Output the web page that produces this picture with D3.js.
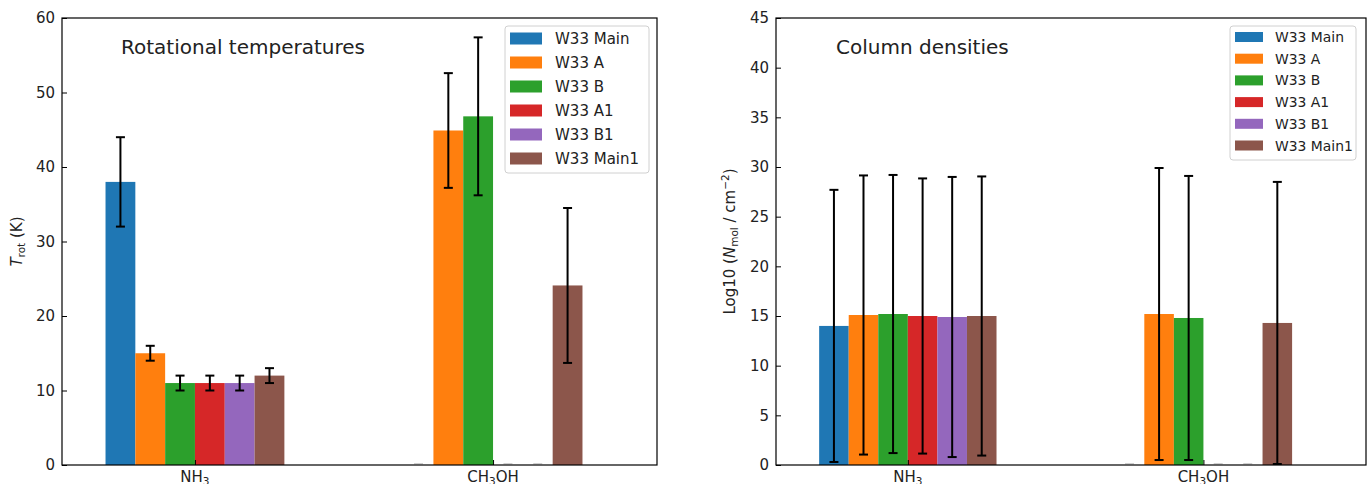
<!DOCTYPE html>
<html>
<head>
<meta charset="utf-8">
<script src="https://cdn.jsdelivr.net/npm/d3@7"></script>
<style>
  html, body { margin: 0; padding: 0; background: #fff; }
  svg text { font-family: "DejaVu Sans", sans-serif; fill: #222; }
</style>
</head>
<body>
<svg id="chart" width="1369" height="484"></svg>
<script>
// Molecules on the x axis
const categories = ["NH3", "CH3OH"];
// Sources, one bar per source in each group
const sources = ["W33 Main", "W33 A", "W33 B", "W33 A1", "W33 B1", "W33 Main1"];
const colors = ["#1f77b4", "#ff7f0e", "#2ca02c", "#d62728", "#9467bd", "#8c564b"];

// Rotational temperatures (K), per source: [NH3, CH3OH]
const trotMain  = [38, 0];
const trotA     = [15, 44.9];
const trotB     = [11, 46.8];
const trotA1    = [11, 0];
const trotB1    = [11, 0];
const trotMain1 = [12, 24.1];
// Uncertainties on the rotational temperatures
const trotErrMain  = [6, 0];
const trotErrA     = [1, 7.7];
const trotErrB     = [1, 10.6];
const trotErrA1    = [1, 0];
const trotErrB1    = [1, 0];
const trotErrMain1 = [1, 10.4];

// Log10 column densities (cm^-2), per source: [NH3, CH3OH]
const colMain  = [14.0, 0];
const colA     = [15.1, 15.2];
const colB     = [15.2, 14.8];
const colA1    = [15.0, 0];
const colB1    = [14.9, 0];
const colMain1 = [15.0, 14.3];
// Uncertainties on the column densities
const colErrMain  = [13.7, 0];
const colErrA     = [14.05, 14.7];
const colErrB     = [14.0, 14.3];
const colErrA1    = [13.85, 0];
const colErrB1    = [14.1, 0];
const colErrMain1 = [14.05, 14.2];

// Tick values for each panel
const trotTicks = [0, 10, 20, 30, 40, 50, 60];
const colTicks = [0, 5, 10, 15, 20, 25, 30, 35, 40, 45];

const svg = d3.select("#chart");

function drawPanel(cfg) {
  const g = svg.append("g");
  const x = d3.scaleLinear().domain([-0.446, 1.55]).range([cfg.left, cfg.right]);
  const y = d3.scaleLinear().domain(cfg.yDomain).range([cfg.bottom, cfg.top]);
  const barW = 0.1;

  // bars
  cfg.values.forEach((vals, si) => {
    vals.forEach((v, ci) => {
      const cx = ci + (si - 2.5) * barW;
      g.append("rect")
        .attr("x", x(cx - barW / 2))
        .attr("width", x(cx + barW / 2) - x(cx - barW / 2))
        .attr("y", y(v))
        .attr("height", y(0) - y(v))
        .attr("fill", colors[si]);
    });
  });

  // error bars
  cfg.values.forEach((vals, si) => {
    vals.forEach((v, ci) => {
      const e = cfg.errors[si][ci];
      const px = x(ci + (si - 2.5) * barW);
      const capHalf = 4.5;
      if (e === 0) {
        g.append("line")
          .attr("x1", px - capHalf).attr("x2", px + capHalf)
          .attr("y1", y(v) - 1.2).attr("y2", y(v) - 1.2)
          .attr("stroke", "#bdbdbd").attr("stroke-width", 1);
        return;
      }
      g.append("line")
        .attr("x1", px).attr("x2", px)
        .attr("y1", y(v - e)).attr("y2", y(v + e))
        .attr("stroke", "#000").attr("stroke-width", 2);
      [v - e, v + e].forEach(t => {
        g.append("line")
          .attr("x1", px - capHalf).attr("x2", px + capHalf)
          .attr("y1", y(t)).attr("y2", y(t))
          .attr("stroke", "#000").attr("stroke-width", 2);
      });
    });
  });

  // y axis, ticks pointing inward
  const yAxis = d3.axisRight(y).tickValues(cfg.ticks).tickSize(5).tickFormat(d3.format("d"));
  const ya = g.append("g").attr("transform", `translate(${cfg.left},0)`).call(yAxis);
  ya.select(".domain").remove();
  ya.selectAll(".tick line").attr("stroke", "#000").attr("stroke-width", 1);
  ya.selectAll(".tick text")
    .attr("x", -7).attr("text-anchor", "end")
    .attr("font-size", 15).attr("font-family", "DejaVu Sans").attr("fill", "#222");

  // x ticks at category centres, pointing inward
  const xAxis = d3.axisTop(x).tickValues([0, 1]).tickSize(5).tickFormat("");
  const xa = g.append("g").attr("transform", `translate(0,${cfg.bottom})`).call(xAxis);
  xa.select(".domain").remove();
  xa.selectAll(".tick line").attr("stroke", "#000").attr("stroke-width", 1);

  // category labels with subscript digits
  const labelParts = [["NH", "3", ""], ["CH", "3", "OH"]];
  labelParts.forEach((p, ci) => {
    const t = g.append("text")
      .attr("x", x(ci)).attr("y", cfg.bottom + 17)
      .attr("text-anchor", "middle").attr("font-size", 15);
    t.append("tspan").text(p[0]);
    t.append("tspan").attr("font-size", 10.5).attr("dy", 3).text(p[1]);
    if (p[2]) t.append("tspan").attr("dy", -3).text(p[2]);
  });

  // frame
  g.append("rect")
    .attr("x", cfg.left).attr("y", cfg.top)
    .attr("width", cfg.right - cfg.left).attr("height", cfg.bottom - cfg.top)
    .attr("fill", "none").attr("stroke", "#000").attr("stroke-width", 1.2);

  // panel title inside the axes
  g.append("text")
    .attr("x", cfg.titleX).attr("y", cfg.top + 36)
    .attr("font-size", 20).text(cfg.title);

  // y axis label
  cfg.yLabel(g.append("text")
    .attr("transform", `translate(${cfg.yLabelX},${(cfg.top + cfg.bottom) / 2}) rotate(-90)`)
    .attr("text-anchor", "middle").attr("font-size", 15));

  // legend
  const L = cfg.legend;
  const lg = g.append("g");
  lg.append("rect")
    .attr("x", L.x).attr("y", L.y).attr("width", L.w).attr("height", L.h)
    .attr("rx", 3).attr("fill", "#fff").attr("fill-opacity", 0.8)
    .attr("stroke", "#d0d0d0").attr("stroke-width", 1);
  sources.forEach((s, i) => {
    const cy = L.firstRow + i * L.rowStep;
    lg.append("rect")
      .attr("x", L.patchX).attr("y", cy - L.patchH / 2)
      .attr("width", L.patchW).attr("height", L.patchH)
      .attr("fill", colors[i]);
    lg.append("text")
      .attr("x", L.textX).attr("y", cy)
      .attr("dy", "0.36em").attr("font-size", L.fontSize).text(s);
  });
}

drawPanel({
  left: 62, right: 657, top: 18, bottom: 465,
  yDomain: [0, 60], ticks: trotTicks,
  values: [trotMain, trotA, trotB, trotA1, trotB1, trotMain1],
  errors: [trotErrMain, trotErrA, trotErrB, trotErrA1, trotErrB1, trotErrMain1],
  title: "Rotational temperatures", titleX: 121,
  yLabelX: 22,
  yLabel: t => {
    t.append("tspan").attr("font-style", "italic").text("T");
    t.append("tspan").attr("font-size", 10.5).attr("dy", 3).text("rot");
    t.append("tspan").attr("dy", -3).text(" (K)");
  },
  legend: { x: 505, y: 26, w: 144, h: 147, patchX: 510, patchW: 32, patchH: 12,
            textX: 555, firstRow: 38.5, rowStep: 24, fontSize: 15 }
});

drawPanel({
  left: 776, right: 1366, top: 18, bottom: 465,
  yDomain: [0, 45], ticks: colTicks,
  values: [colMain, colA, colB, colA1, colB1, colMain1],
  errors: [colErrMain, colErrA, colErrB, colErrA1, colErrB1, colErrMain1],
  title: "Column densities", titleX: 836,
  yLabelX: 735,
  yLabel: t => {
    t.append("tspan").text("Log10 (");
    t.append("tspan").attr("font-style", "italic").text("N");
    t.append("tspan").attr("font-size", 10.5).attr("dy", 3).text("mol");
    t.append("tspan").attr("dy", -3).text(" / cm");
    t.append("tspan").attr("font-size", 10.5).attr("dy", -6).text("\u22122");
    t.append("tspan").attr("dy", 6).text(")");
  },
  legend: { x: 1230, y: 26, w: 126, h: 134, patchX: 1235, patchW: 28, patchH: 10,
            textX: 1275, firstRow: 37, rowStep: 21.7, fontSize: 13.9 }
});
</script>
</body>
</html>
